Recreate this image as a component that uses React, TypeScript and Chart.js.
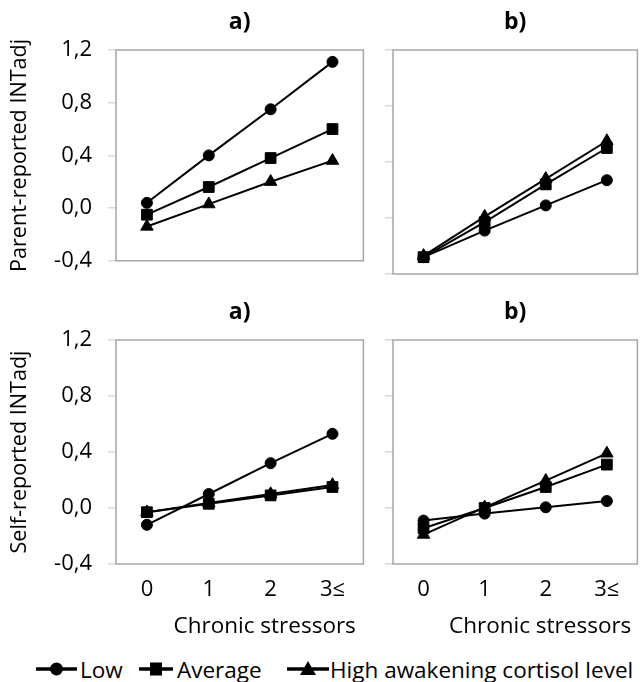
import React, { useEffect, useRef } from "react";
import { Chart, registerables } from "chart.js";

Chart.register(...registerables);

// ---- data ----
const categories = ["0", "1", "2", "3≤"];
const yTickValues = [-0.4, 0, 0.4, 0.8, 1.2];
const seriesLabels = ["Low", "Average", "High awakening cortisol level"];
const panelTitles = ["a)", "b)"];
const yTitles = ["Parent-reported INTadj", "Self-reported INTadj"];
const xTitle = "Chronic stressors";

const parentA_Low = [0.04, 0.4, 0.75, 1.11];
const parentA_Average = [-0.05, 0.16, 0.38, 0.6];
const parentA_High = [-0.14, 0.03, 0.2, 0.36];

const parentB_Low = [-0.28, -0.09, 0.09, 0.27];
const parentB_Average = [-0.28, -0.03, 0.24, 0.5];
const parentB_High = [-0.27, 0.01, 0.28, 0.55];

const selfA_Low = [-0.12, 0.1, 0.32, 0.53];
const selfA_Average = [-0.03, 0.03, 0.09, 0.15];
const selfA_High = [-0.03, 0.035, 0.1, 0.165];

const selfB_Low = [-0.09, -0.04, 0.005, 0.05];
const selfB_Average = [-0.145, 0.0, 0.15, 0.31];
const selfB_High = [-0.19, 0.005, 0.195, 0.39];

// ---- style ----
const FONT = "'Open Sans', Lato, sans-serif";
const TICK_SIZE = 22;
const TITLE_SIZE = 22.5;
const Y_TITLE_SIZE = 21.6;
const pointStyles = ["circle", "rect", "triangle"] as const;
const pointRadii = [5.5, 7.6, 7.2];
const AXIS = "#a6a6a6";

const boxPlugin = {
  id: "box",
  beforeDatasetsDraw(chart: any) {
    const { ctx, chartArea } = chart;
    ctx.save();
    ctx.strokeStyle = AXIS;
    ctx.lineWidth = 1.5;
    ctx.strokeRect(chartArea.left, chartArea.top, chartArea.right - chartArea.left, chartArea.bottom - chartArea.top);
    ctx.restore();
  },
};

// axis title for the category axis, drawn slightly right of centre as in the original
const xTitlePlugin = {
  id: "xTitleShifted",
  afterDraw(chart: any, _args: any, opts: any) {
    if (!opts || !opts.display) return;
    const { ctx, chartArea } = chart;
    ctx.save();
    ctx.fillStyle = "#000";
    ctx.font = `${TITLE_SIZE}px ${FONT}`;
    ctx.textAlign = "center";
    ctx.textBaseline = "middle";
    ctx.fillText(opts.text, (chartArea.left + chartArea.right) / 2 + 25, chartArea.bottom + 63);
    ctx.restore();
  },
};

type PanelProps = {
  left: number;
  top: number;
  width: number;
  height: number;
  title: string;
  series: number[][];
  yTitle?: string;
  showYLabels: boolean;
  showX: boolean;
  yScaleWidth: number;
  xScaleHeight: number;
  padBottom: number;
};

function Panel(p: PanelProps) {
  const ref = useRef<HTMLCanvasElement>(null);
  useEffect(() => {
    const chart = new Chart(ref.current!, {
      type: "line",
      data: {
        labels: categories,
        datasets: p.series.map((d, i) => ({
          label: seriesLabels[i],
          data: d,
          borderColor: "#000",
          backgroundColor: "#000",
          borderWidth: 2,
          pointStyle: pointStyles[i],
          pointRadius: pointRadii[i],
          pointBorderColor: "#000",
          pointBackgroundColor: "#000",
          pointBorderWidth: 1,
          tension: 0,
          clip: false as any,
        })),
      },
      options: {
        animation: false,
        responsive: false,
        maintainAspectRatio: false,
        layout: { padding: { top: 0, right: 2, bottom: p.padBottom, left: 0 } },
        plugins: {
          legend: { display: false },
          tooltip: { enabled: false },
          title: {
            display: true,
            text: p.title,
            fullSize: false,
            color: "#000",
            font: { family: FONT, size: 23, weight: "bold" },
            padding: { top: 9, bottom: 13.4 },
          },
          xTitleShifted: { display: p.showX, text: xTitle },
        },
        scales: {
          x: {
            display: p.showX,
            offset: true,
            grid: { display: false, drawTicks: false },
            border: { display: false },
            ticks: { color: "#000", padding: 13, font: { family: FONT, size: TICK_SIZE } },
            title: { display: false },
            afterFit: (s: any) => {
              s.height = p.xScaleHeight;
            },
          },
          y: {
            min: -0.4,
            max: 1.2,
            afterBuildTicks: (s: any) => {
              s.ticks = yTickValues.map((v) => ({ value: v }));
            },
            grid: { drawOnChartArea: false, drawTicks: true, tickLength: 8, color: "#d9d9d9", lineWidth: 1.5 },
            border: { display: false },
            ticks: {
              display: p.showYLabels,
              padding: 16,
              color: "#000",
              font: { family: FONT, size: TICK_SIZE },
              callback: (v: any) => Number(v).toFixed(1).replace(".", ","),
            },
            title: {
              display: !!p.yTitle,
              text: p.yTitle || "",
              color: "#000",
              font: { family: FONT, size: Y_TITLE_SIZE },
              padding: { top: 7, bottom: 0 },
            },
            afterFit: (s: any) => {
              s.width = p.yScaleWidth;
            },
          },
        },
      } as any,
      plugins: [boxPlugin, xTitlePlugin],
    });
    return () => chart.destroy();
  }, []);
  return (
    <canvas
      ref={ref}
      width={p.width}
      height={p.height}
      style={{ position: "absolute", left: p.left, top: p.top, width: p.width, height: p.height }}
    />
  );
}

function LegendIcon({ style, w }: { style: string; w: number }) {
  const h = 22;
  const cx = w / 2;
  const cy = h / 2;
  let marker: React.ReactNode = null;
  if (style === "circle") marker = <circle cx={cx} cy={cy} r={6.5} fill="#000" />;
  else if (style === "rect") marker = <rect x={cx - 6} y={cy - 6.5} width={12} height={13} fill="#000" />;
  else marker = <polygon points={`${cx},${cy - 8} ${cx + 8},${cy + 6} ${cx - 8},${cy + 6}`} fill="#000" />;
  return (
    <svg width={w} height={h} style={{ display: "block" }}>
      <line x1={0} y1={cy} x2={w} y2={cy} stroke="#000" strokeWidth={3.5} />
      {marker}
    </svg>
  );
}

function LegendItem({ left, iconW, gap, style, text }: { left: number; iconW: number; gap: number; style: string; text: string }) {
  return (
    <div style={{ position: "absolute", left, top: 0, height: 26, display: "flex", alignItems: "center" }}>
      <LegendIcon style={style} w={iconW} />
      <span style={{ marginLeft: gap }}>{text}</span>
    </div>
  );
}

export default function App() {
  return (
    <div
      style={{
        position: "fixed",
        left: 0,
        top: 0,
        width: 644,
        height: 682,
        overflow: "hidden",
        background: "#fff",
        fontFamily: FONT,
      }}
    >
      <Panel left={0} top={0} width={372} height={290} title={panelTitles[0]}
        series={[parentA_Low, parentA_Average, parentA_High]} yTitle={yTitles[0]}
        showYLabels={true} showX={false} yScaleWidth={116} xScaleHeight={0} padBottom={16} />
      <Panel left={370} top={0} width={276} height={290} title={panelTitles[1]}
        series={[parentB_Low, parentB_Average, parentB_High]}
        showYLabels={false} showX={false} yScaleWidth={23} xScaleHeight={0} padBottom={16} />
      <Panel left={0} top={290} width={372} height={360} title={panelTitles[0]}
        series={[selfA_Low, selfA_Average, selfA_High]} yTitle={yTitles[1]}
        showYLabels={true} showX={true} yScaleWidth={116} xScaleHeight={86} padBottom={0} />
      <Panel left={370} top={290} width={276} height={360} title={panelTitles[1]}
        series={[selfB_Low, selfB_Average, selfB_High]}
        showYLabels={false} showX={true} yScaleWidth={23} xScaleHeight={86} padBottom={0} />
      <div
        style={{
          position: "absolute",
          left: 0,
          top: 656,
          width: 644,
          height: 26,
          fontSize: 22.5,
          color: "#000",
          whiteSpace: "nowrap",
        }}
      >
        <LegendItem left={36} iconW={41} gap={3} style="circle" text={seriesLabels[0]} />
        <LegendItem left={139} iconW={34} gap={4} style="rect" text={seriesLabels[1]} />
        <LegendItem left={287} iconW={42} gap={1} style="triangle" text={seriesLabels[2]} />
      </div>
    </div>
  );
}
